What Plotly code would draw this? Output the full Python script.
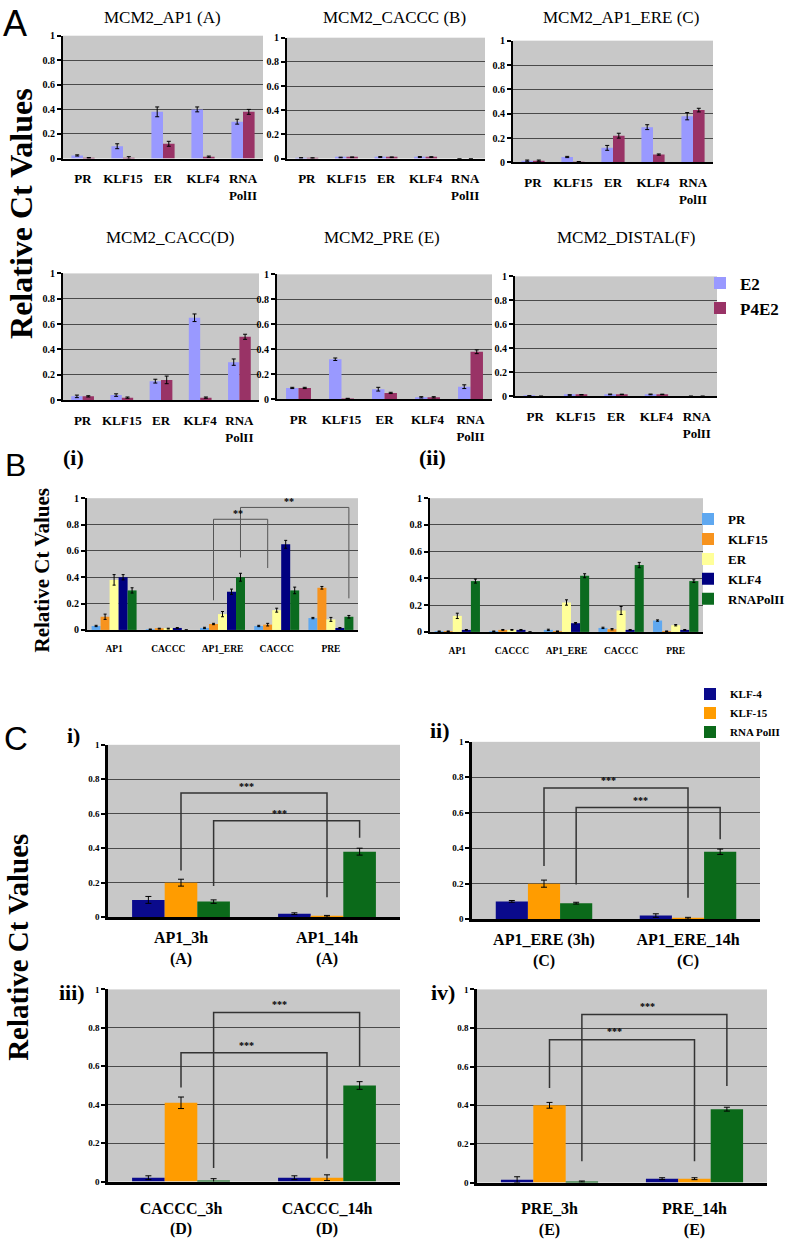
import plotly.graph_objects as go

W, H = 793, 1245
SERIF = "Liberation Serif"

# ---------------- Panel A data (order: PR, KLF15, ER, KLF4, RNA PolII) ----------------
A_factors = ["PR", "KLF15", "ER", "KLF4", "RNA<br>PolII"]
A_titles = ["MCM2_AP1 (A)", "MCM2_CACCC (B)", "MCM2_AP1_ERE (C)",
            "MCM2_CACC(D)", "MCM2_PRE (E)", "MCM2_DISTAL(F)"]
A_series = ["E2", "P4E2"]

AP1_E2 = [0.025, 0.10, 0.38, 0.40, 0.30]
AP1_E2_err = [0.005, 0.02, 0.04, 0.02, 0.02]
AP1_P4E2 = [0.005, 0.005, 0.12, 0.015, 0.38]
AP1_P4E2_err = [0.003, 0.01, 0.02, 0.005, 0.02]

CACCC_E2 = [0.005, 0.008, 0.012, 0.012, 0.0]
CACCC_E2_err = [0.002, 0.003, 0.004, 0.004, 0.0]
CACCC_P4E2 = [0.004, 0.010, 0.010, 0.012, 0.0]
CACCC_P4E2_err = [0.002, 0.003, 0.003, 0.003, 0.0]

AP1ERE_E2 = [0.015, 0.045, 0.12, 0.29, 0.38]
AP1ERE_E2_err = [0.005, 0.005, 0.02, 0.02, 0.03]
AP1ERE_P4E2 = [0.015, 0.005, 0.22, 0.065, 0.43]
AP1ERE_P4E2_err = [0.005, 0.003, 0.02, 0.005, 0.015]

CACC_E2 = [0.03, 0.04, 0.15, 0.65, 0.30]
CACC_E2_err = [0.01, 0.01, 0.015, 0.03, 0.025]
CACC_P4E2 = [0.03, 0.02, 0.16, 0.02, 0.50]
CACC_P4E2_err = [0.005, 0.005, 0.03, 0.005, 0.02]

PRE_E2 = [0.09, 0.32, 0.08, 0.015, 0.10]
PRE_E2_err = [0.005, 0.01, 0.015, 0.005, 0.015]
PRE_P4E2 = [0.09, 0.005, 0.05, 0.015, 0.38]
PRE_P4E2_err = [0.005, 0.002, 0.005, 0.005, 0.015]

DISTAL_E2 = [0.003, 0.010, 0.015, 0.015, 0.0]
DISTAL_E2_err = [0.002, 0.003, 0.003, 0.003, 0.0]
DISTAL_P4E2 = [0.0, 0.012, 0.015, 0.015, 0.0]
DISTAL_P4E2_err = [0.0, 0.002, 0.002, 0.002, 0.0]

# ---------------- Panel B data (groups: sites; series: factors) ----------------
B_sites = ["AP1", "CACCC", "AP1_ERE", "CACCC", "PRE"]
B_factors = ["PR", "KLF15", "ER", "KLF4", "RNAPolII"]

Bi_PR = [0.03, 0.005, 0.015, 0.03, 0.09]
Bi_PR_err = [0.005, 0.002, 0.005, 0.005, 0.005]
Bi_KLF15 = [0.10, 0.01, 0.045, 0.04, 0.32]
Bi_KLF15_err = [0.02, 0.003, 0.005, 0.01, 0.01]
Bi_ER = [0.38, 0.01, 0.12, 0.15, 0.08]
Bi_ER_err = [0.04, 0.003, 0.02, 0.015, 0.015]
Bi_KLF4 = [0.40, 0.015, 0.29, 0.65, 0.015]
Bi_KLF4_err = [0.02, 0.003, 0.02, 0.03, 0.003]
Bi_Pol = [0.30, 0.0, 0.40, 0.30, 0.10]
Bi_Pol_err = [0.02, 0.0, 0.03, 0.025, 0.01]

Bii_PR = [0.005, 0.005, 0.015, 0.03, 0.085]
Bii_PR_err = [0.002, 0.002, 0.005, 0.005, 0.005]
Bii_KLF15 = [0.005, 0.015, 0.005, 0.02, 0.005]
Bii_KLF15_err = [0.002, 0.003, 0.002, 0.005, 0.002]
Bii_ER = [0.12, 0.015, 0.22, 0.16, 0.05]
Bii_ER_err = [0.02, 0.003, 0.02, 0.03, 0.005]
Bii_KLF4 = [0.015, 0.015, 0.065, 0.015, 0.015]
Bii_KLF4_err = [0.003, 0.003, 0.005, 0.003, 0.003]
Bii_Pol = [0.38, 0.0, 0.42, 0.50, 0.38]
Bii_Pol_err = [0.015, 0.0, 0.015, 0.02, 0.01]

# brackets: (group_from, series_from, group_to, series_to, top, drop_from, drop_to, label)
Bi_brackets = [(2, 1, 3, 1, 0.84, 0.225, 0.47, "**"),
               (2, 4, 4, 4, 0.93, 0.55, 0.24, "**")]

# ---------------- Panel C data (series: KLF-4, KLF-15, RNA PolII) ----------------
C_series = ["KLF-4", "KLF-15", "RNA PolII"]
C1_groups = ["AP1_3h<br>(A)", "AP1_14h<br>(A)"]
C1_KLF4 = [0.10, 0.02]; C1_KLF4_err = [0.02, 0.005]
C1_KLF15 = [0.20, 0.005]; C1_KLF15_err = [0.02, 0.005]
C1_Pol = [0.09, 0.38]; C1_Pol_err = [0.01, 0.02]
C1_brackets = [(0, 1, 1, 1, 0.72, 0.27, 0.115, "***"),
               (0, 2, 1, 2, 0.56, 0.18, 0.46, "***")]

C2_groups = ["AP1_ERE (3h)<br>(C)", "AP1_ERE_14h<br>(C)"]
C2_KLF4 = [0.10, 0.02]; C2_KLF4_err = [0.005, 0.01]
C2_KLF15 = [0.20, 0.005]; C2_KLF15_err = [0.02, 0.005]
C2_Pol = [0.09, 0.38]; C2_Pol_err = [0.005, 0.015]
C2_brackets = [(0, 1, 1, 1, 0.74, 0.30, 0.12, "***"),
               (0, 2, 1, 2, 0.63, 0.195, 0.45, "***")]

C3_groups = ["CACCC_3h<br>(D)", "CACCC_14h<br>(D)"]
C3_KLF4 = [0.02, 0.02]; C3_KLF4_err = [0.01, 0.01]
C3_KLF15 = [0.41, 0.02]; C3_KLF15_err = [0.03, 0.015]
C3_Pol = [0.005, 0.50]; C3_Pol_err = [0.01, 0.02]
C3_brackets = [(0, 2, 1, 2, 0.88, 0.07, 0.60, "***"),
               (0, 1, 1, 1, 0.67, 0.49, 0.12, "***")]

C4_groups = ["PRE_3h<br>(E)", "PRE_14h<br>(E)"]
C4_KLF4 = [0.015, 0.02]; C4_KLF4_err = [0.015, 0.005]
C4_KLF15 = [0.40, 0.02]; C4_KLF15_err = [0.015, 0.005]
C4_Pol = [0.005, 0.38]; C4_Pol_err = [0.003, 0.01]
C4_brackets = [(0, 2, 1, 2, 0.87, 0.11, 0.50, "***"),
               (0, 1, 1, 1, 0.74, 0.49, 0.11, "***")]

Y_TICKS = [0, 0.2, 0.4, 0.6, 0.8, 1]
Y_TICKTEXT = ["0", "0.2", "0.4", "0.6", "0.8", "1"]

# ---------------- styles ----------------
A_colors = ["#9999FF", "#993366"]
B_colors = ["#5FA8F0", "#F7931E", "#FFFF99", "#000080", "#0B6B1F"]
C_colors = ["#0A0A8C", "#FF9C00", "#0B6A1A"]
BG = "#C8C8C8"
GRID = "#4a4a4a"

# plot boxes in pixels: (left, top, right, bottom)
boxes = [
    (63, 30, 263, 154), (287, 32, 485, 154), (513, 35, 713, 158),
    (63, 270, 259, 398), (277, 271, 492, 397), (515, 273, 717, 394),
    (87, 497, 358, 630), (430, 497, 703, 632),
    (108, 746, 400, 920), (472, 743, 760, 922),
    (108, 993, 400, 1187), (477, 993, 767, 1188),
]

fig = go.Figure()
layout = {}
shapes = []
annotations = []


def px(x):
    return x / W


def py(y):
    return 1 - y / H


def axis_names(i):
    s = "" if i == 1 else str(i)
    return "x" + s, "y" + s, "xaxis" + s, "yaxis" + s


def setup_axes(i, cats, tickfont, xfont, standoff, axw=2):
    l, t, r, b = boxes[i - 1]
    xr, yr, xk, yk = axis_names(i)
    layout[xk] = dict(domain=[px(l), px(r)], anchor=yr, range=[-0.5, len(cats) - 0.5],
                      tickvals=list(range(len(cats))), ticktext=cats,
                      showline=True, linecolor="black", linewidth=axw, ticks="",
                      showgrid=False, zeroline=False, fixedrange=True,
                      tickfont=dict(family=SERIF, size=xfont, color="black", weight="bold"),
                      ticklabelstandoff=standoff)
    layout[yk] = dict(domain=[py(b), py(t)], anchor=xr, range=[0, 1],
                      tickvals=Y_TICKS, ticktext=Y_TICKTEXT,
                      showline=True, linecolor="black", linewidth=axw,
                      ticks="outside", ticklen=4, tickcolor="black", tickwidth=1.5,
                      showgrid=True, gridcolor=GRID, gridwidth=1.3, zeroline=False,
                      fixedrange=True,
                      tickfont=dict(family=SERIF, size=tickfont, color="black", weight="bold"))
    return xr, yr


def add_bars(i, series_vals, series_errs, names, colors, frac, legend, showlegend, errw=2):
    xr, yr, _, _ = axis_names(i)
    n = len(series_vals)
    w = frac / n
    for s, (vals, errs) in enumerate(zip(series_vals, series_errs)):
        fig.add_trace(go.Bar(
            x=list(range(len(vals))), y=vals, width=w, offset=-frac / 2 + s * w,
            name=names[s], marker=dict(color=colors[s], line=dict(width=0)),
            error_y=dict(type="data", array=errs, visible=True, color="black",
                         thickness=1, width=errw),
            xaxis=xr, yaxis=yr, legend=legend, showlegend=showlegend))
    return w


def add_brackets(i, brackets, n, frac, lcolor, lwidth, star_size, star_dy):
    xr, yr, _, _ = axis_names(i)
    w = frac / n
    for (g0, s0, g1, s1, top, d0, d1, lab) in brackets:
        x0 = g0 - frac / 2 + s0 * w + w / 2
        x1 = g1 - frac / 2 + s1 * w + w / 2
        shapes.append(dict(type="path", xref=xr, yref=yr,
                           path=f"M {x0} {d0} L {x0} {top} L {x1} {top} L {x1} {d1}",
                           line=dict(color=lcolor, width=lwidth)))
        annotations.append(dict(xref=xr, yref=yr, x=(x0 + x1) / 2 - 0.05 * (x1 - x0),
                                y=top + star_dy, text=lab, showarrow=False,
                                font=dict(family=SERIF, size=star_size, color="black",
                                          weight="bold")))


# ---------------- Panel A ----------------
A_data = [
    (AP1_E2, AP1_E2_err, AP1_P4E2, AP1_P4E2_err),
    (CACCC_E2, CACCC_E2_err, CACCC_P4E2, CACCC_P4E2_err),
    (AP1ERE_E2, AP1ERE_E2_err, AP1ERE_P4E2, AP1ERE_P4E2_err),
    (CACC_E2, CACC_E2_err, CACC_P4E2, CACC_P4E2_err),
    (PRE_E2, PRE_E2_err, PRE_P4E2, PRE_P4E2_err),
    (DISTAL_E2, DISTAL_E2_err, DISTAL_P4E2, DISTAL_P4E2_err),
]
title_pos = [(162, 12), (394, 12), (621, 12), (170, 234), (382, 234), (626, 234)]
for k, (e2, e2e, p4, p4e) in enumerate(A_data):
    i = k + 1
    setup_axes(i, A_factors, 10, 13, 7)
    add_bars(i, [e2, p4], [e2e, p4e], A_series, A_colors, 0.58, "legend", k == 0)
    tx, ty = title_pos[k]
    annotations.append(dict(xref="paper", yref="paper", x=px(tx), y=py(ty),
                            text=A_titles[k], showarrow=False, xanchor="center",
                            yanchor="middle",
                            font=dict(family=SERIF, size=17, color="black")))

# ---------------- Panel B ----------------
setup_axes(7, B_sites, 10, 9.5, 9)
add_bars(7, [Bi_PR, Bi_KLF15, Bi_ER, Bi_KLF4, Bi_Pol],
         [Bi_PR_err, Bi_KLF15_err, Bi_ER_err, Bi_KLF4_err, Bi_Pol_err],
         B_factors, B_colors, 0.83, "legend2", True, errw=1.5)
add_brackets(7, Bi_brackets, 5, 0.83, "#555555", 1, 10, 0.045)

setup_axes(8, B_sites, 10, 9.5, 9)
add_bars(8, [Bii_PR, Bii_KLF15, Bii_ER, Bii_KLF4, Bii_Pol],
         [Bii_PR_err, Bii_KLF15_err, Bii_ER_err, Bii_KLF4_err, Bii_Pol_err],
         B_factors, B_colors, 0.83, "legend2", False, errw=1.5)

# ---------------- Panel C ----------------
C_data = [
    (C1_groups, [C1_KLF4, C1_KLF15, C1_Pol], [C1_KLF4_err, C1_KLF15_err, C1_Pol_err], C1_brackets),
    (C2_groups, [C2_KLF4, C2_KLF15, C2_Pol], [C2_KLF4_err, C2_KLF15_err, C2_Pol_err], C2_brackets),
    (C3_groups, [C3_KLF4, C3_KLF15, C3_Pol], [C3_KLF4_err, C3_KLF15_err, C3_Pol_err], C3_brackets),
    (C4_groups, [C4_KLF4, C4_KLF15, C4_Pol], [C4_KLF4_err, C4_KLF15_err, C4_Pol_err], C4_brackets),
]
for k, (groups, vals, errs, brs) in enumerate(C_data):
    i = 9 + k
    setup_axes(i, groups, 9, 16, 4 if k < 2 else 10, axw=2.5)
    add_bars(i, vals, errs, C_series, C_colors, 0.67, "legend3", k == 0, errw=3)
    add_brackets(i, brs, 3, 0.67, "#333333", 1.5, 10, 0.04)

# ---------------- free text ----------------
def txt(x, y, s, size, family=SERIF, weight="bold", angle=0, xanchor="center"):
    annotations.append(dict(xref="paper", yref="paper", x=px(x), y=py(y), text=s,
                            showarrow=False, xanchor=xanchor, yanchor="middle",
                            textangle=angle,
                            font=dict(family=family, size=size, color="black",
                                      weight=weight)))


SANS = "Liberation Sans"
txt(15, 18, "A", 36, SANS, "normal")
txt(15, 463, "B", 32, SANS, "normal")
txt(16, 740, "C", 33, SANS, "normal")
txt(21, 210, "Relative Ct Values", 32, angle=-90)
txt(42, 570, "Relative Ct Values", 21, angle=-90)
txt(18, 951, "Relative Ct Values", 29, angle=-90)
txt(73, 456, "(i)", 22)
txt(432, 456, "(ii)", 22)
txt(82, 737, "i)", 22, xanchor="right")
txt(452, 732, "ii)", 22, xanchor="right")
txt(87, 996, "iii)", 22, xanchor="right")
txt(457, 996, "iv)", 22, xanchor="right")

fig.update_layout(
    width=W, height=H, margin=dict(l=0, r=0, t=0, b=0),
    paper_bgcolor="white", plot_bgcolor=BG, barmode="overlay",
    shapes=shapes, annotations=annotations,
    legend=dict(x=px(700), y=py(262), xanchor="left", yanchor="top",
                bgcolor="rgba(0,0,0,0)",
                font=dict(family=SERIF, size=17, color="black", weight="bold")),
    legend2=dict(x=px(688), y=py(503), xanchor="left", yanchor="top",
                 bgcolor="rgba(0,0,0,0)",
                 font=dict(family=SERIF, size=13, color="black", weight="bold")),
    legend3=dict(x=px(690), y=py(680), xanchor="left", yanchor="top",
                 bgcolor="rgba(0,0,0,0)",
                 font=dict(family=SERIF, size=11, color="black", weight="bold")),
    showlegend=True,
    **layout,
)

fig.write_html(
    "out.html",
    config={"displayModeBar": False},
    post_script=("var de=document.documentElement,bd=document.body;"
                 "de.style.margin='0';de.style.padding='0';bd.style.margin='0';bd.style.padding='0';"
                 "de.style.height='1245px';bd.style.height='1245px';"
                 "de.style.overflow='hidden';bd.style.overflow='hidden';"),
)
